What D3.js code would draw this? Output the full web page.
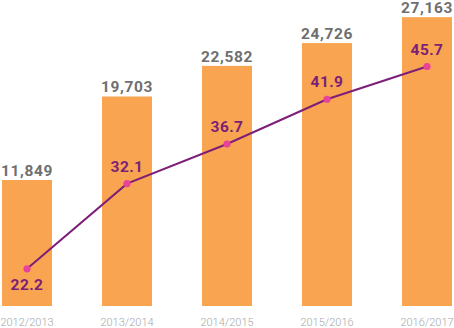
<!DOCTYPE html>
<html>
<head>
<meta charset="utf-8">
<script src="https://cdn.jsdelivr.net/npm/d3@7"></script>
<style>
  html, body { margin: 0; padding: 0; background: #ffffff; }
  svg { display: block; }
</style>
</head>
<body>
<svg id="chart" width="454" height="328"></svg>
<script>
// Academic years on the x axis
const years = ["2012/2013", "2013/2014", "2014/2015", "2015/2016", "2016/2017"];
// Bar series: totals per year
const totals = [11849, 19703, 22582, 24726, 27163];
// Line series: rate per year
const rates = [22.2, 32.1, 36.7, 41.9, 45.7];

const svg = d3.select("#chart");
const W = 454, H = 328;
const baseY = 306;

const x = d3.scaleBand()
  .domain(years)
  .range([-23, 477])
  .paddingInner(0.5)
  .paddingOuter(0.25);

const yBar = d3.scaleLinear().domain([0, 30000]).range([baseY, -13]);
const yLine = d3.scaleLinear().domain([0, 50]).range([460, 29.5]);

const fmt = d3.format(",");
const cx = d => x(d) + x.bandwidth() / 2;

// Bars
svg.append("g").selectAll("rect")
  .data(years)
  .join("rect")
  .attr("x", d => x(d))
  .attr("y", (d, i) => yBar(totals[i]))
  .attr("width", x.bandwidth())
  .attr("height", (d, i) => baseY - yBar(totals[i]))
  .attr("fill", "#f9a451");

// Bar value labels
svg.append("g").selectAll("text")
  .data(years)
  .join("text")
  .attr("x", d => cx(d))
  .attr("y", (d, i) => yBar(totals[i]) - 4)
  .attr("text-anchor", "middle")
  .attr("font-family", "Roboto, 'DejaVu Sans', sans-serif")
  .attr("font-weight", 700)
  .attr("font-size", 15.5)
  .attr("letter-spacing", 0.6)
  .attr("fill", "#6f6f6f")
  .text((d, i) => fmt(totals[i]));

// Category axis labels
const xAxis = d3.axisBottom(x).tickSize(0).tickPadding(0);
const gx = svg.append("g")
  .attr("transform", `translate(0,${baseY})`)
  .call(xAxis);
gx.select(".domain").remove();
gx.selectAll("text")
  .attr("y", 20)
  .attr("dy", 0)
  .attr("font-family", "Roboto, 'DejaVu Sans', sans-serif")
  .attr("font-weight", 300)
  .attr("font-size", 11)
  .attr("fill", "#a8a8a8");

// Rate line
const line = d3.line()
  .x(d => cx(d.year))
  .y(d => yLine(d.rate));
const pts = years.map((year, i) => ({ year, rate: rates[i] }));

svg.append("path")
  .datum(pts)
  .attr("d", line)
  .attr("fill", "none")
  .attr("stroke", "#7d1f78")
  .attr("stroke-width", 2);

svg.append("g").selectAll("circle")
  .data(pts)
  .join("circle")
  .attr("cx", d => cx(d.year))
  .attr("cy", d => yLine(d.rate))
  .attr("r", 3.6)
  .attr("fill", "#e8439b");

// Rate labels: first one under its point, the rest above
svg.append("g").selectAll("text")
  .data(pts)
  .join("text")
  .attr("x", d => cx(d.year))
  .attr("y", (d, i) => yLine(d.rate) + (i === 0 ? 21 : -12))
  .attr("text-anchor", "middle")
  .attr("font-family", "Roboto, 'DejaVu Sans', sans-serif")
  .attr("font-weight", 700)
  .attr("font-size", 15.5)
  .attr("letter-spacing", 0.4)
  .attr("fill", "#7d1f78")
  .text(d => d.rate.toFixed(1));
</script>
</body>
</html>
